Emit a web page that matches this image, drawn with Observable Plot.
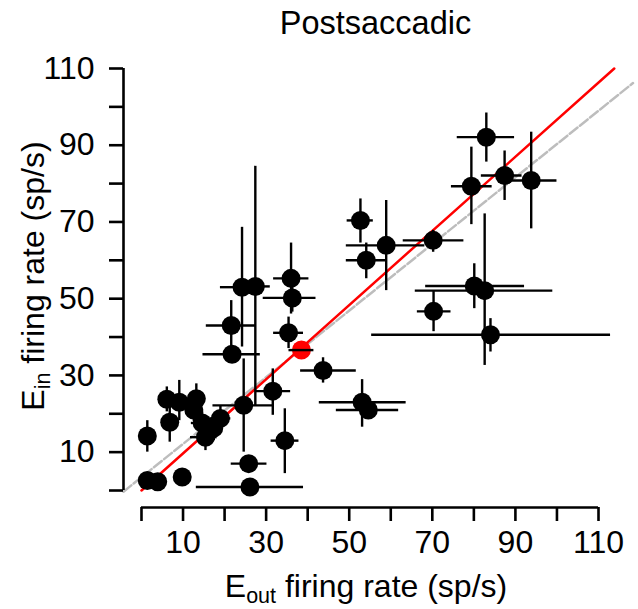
<!DOCTYPE html>
<html>
<head>
<meta charset="utf-8">
<script src="https://cdn.jsdelivr.net/npm/d3@7"></script>
<script src="https://cdn.jsdelivr.net/npm/@observablehq/plot@0.6"></script>
<style>
  body { margin: 0; background: #fff; }
  #chart svg { display: block; }
</style>
</head>
<body>
<div id="chart"></div>
<script>
// ---- data ----
const eOut   = [1.4, 1.4, 3.9, 9.8, 6.1, 9.1, 6.8, 13.2, 12.6, 14.6, 15.4, 17.4, 19.0, 24.6, 25.8, 26.1, 31.6, 34.5, 21.6, 21.8, 24.2, 27.4, 36.0, 36.3, 35.4, 38.5, 43.7, 53.1, 54.6, 52.7, 54.1, 58.9, 70.2, 70.3, 79.4, 83.0, 87.4, 93.8, 80.1, 82.6, 84.0];
const eIn    = [14.2, 2.6, 2.3, 3.5, 23.8, 23.0, 17.8, 23.9, 21.0, 17.6, 13.9, 16.3, 18.8, 22.2, 7.0, 0.9, 25.9, 13.0, 43.0, 35.5, 53.0, 53.2, 55.3, 50.2, 41.1, 36.6, 31.3, 23.0, 21.0, 70.4, 60.0, 63.9, 65.2, 46.7, 79.3, 92.1, 82.1, 80.8, 53.3, 52.1, 40.6];
const eOutLo = [0.4, -0.7, 1.5, 9.8, 4.5, 7.5, 5.5, 11.5, 11.0, 12.0, 11.8, 15.0, 16.5, 17.2, 21.6, 13.2, 27.4, 31.2, 15.6, 14.8, 19.0, 25.0, 31.8, 29.3, 31.8, 35.5, 38.3, 42.8, 46.9, 49.5, 49.3, 49.3, 63.0, 66.4, 74.6, 76.0, 81.8, 87.2, 68.4, 65.9, 55.4];
const eOutHi = [2.4, 3.5, 6.2, 9.8, 7.5, 10.5, 8.5, 15.0, 14.5, 17.0, 18.2, 19.5, 21.5, 32.0, 30.2, 39.0, 35.9, 37.9, 27.5, 28.6, 26.0, 31.0, 40.3, 42.0, 39.0, 41.5, 51.7, 63.7, 61.9, 55.8, 59.0, 68.2, 77.6, 74.5, 84.4, 89.8, 91.6, 100.0, 92.2, 99.0, 112.9];
const eInLo  = [10.0, 2.6, 2.3, 3.5, 20.5, 18.2, 12.6, 20.0, 18.0, 14.5, 10.4, 13.0, 16.0, 10.0, 7.0, 0.9, 19.6, 4.4, 36.6, 33.5, 37.4, 22.0, 46.0, 46.5, 37.0, 36.6, 28.0, 16.5, 19.0, 64.5, 55.2, 52.1, 62.1, 41.4, 69.3, 85.6, 75.6, 68.2, 47.4, 32.6, 36.1];
const eInHi  = [18.2, 2.6, 2.3, 3.5, 27.0, 28.7, 22.3, 27.8, 24.0, 20.5, 17.0, 19.5, 22.0, 34.3, 7.0, 0.9, 31.7, 21.3, 49.5, 37.5, 68.6, 84.5, 64.5, 54.0, 45.2, 36.6, 34.6, 28.9, 23.0, 76.0, 64.5, 75.6, 67.8, 52.1, 89.5, 98.4, 88.5, 93.4, 59.1, 72.1, 44.8];
const highlightIndex = 25;

// reference lines
const fitX   = [0, 113.8];
const fitY   = [0, 110];
const unityX = [-4.33, 118.3];
const unityY = [-0.3, 106.2];

// axes
const tickValues = [0, 10, 20, 30, 40, 50, 60, 70, 80, 90, 100, 110];
const tickLabels = [10, 30, 50, 70, 90, 110];
const titleText = "Postsaccadic";
const xTitleParts = ["E", "out", " firing rate (sp/s)"];
const yTitleParts = ["E", "in", " firing rate (sp/s)"];

const xMin = -4.33, yMin = -4.43;

const rows = eOut.map((x, i) => ({
  x, y: eIn[i], xl: eOutLo[i], xh: eOutHi[i], yl: eInLo[i], yh: eInHi[i], hi: i === highlightIndex
}));
const fitRows = fitX.map((x, i) => ({x, y: fitY[i]}));
const unityRows = unityX.map((x, i) => ({x, y: unityY[i]}));
const fmt = d => tickLabels.includes(d) ? String(d) : "";

const plot = Plot.plot({
  width: 638,
  height: 609,
  marginLeft: 123,
  marginRight: 40,
  marginTop: 68,
  marginBottom: 102,
  style: {fontFamily: '"Liberation Sans", Arial, Helvetica, sans-serif', background: "white", overflow: "visible", color: "black"},
  x: {domain: [xMin, 110]},
  y: {domain: [yMin, 110]},
  marks: [
    Plot.line(unityRows, {x: "x", y: "y", stroke: "#bdbdbd", strokeWidth: 2.5, strokeDasharray: "10,3"}),
    Plot.line(fitRows, {x: "x", y: "y", stroke: "#ff0000", strokeWidth: 2.5}),
    Plot.dot(rows.filter(d => !d.hi), {x: "x", y: "y", r: 9.5, fill: "black"}),
    Plot.dot(rows.filter(d => d.hi), {x: "x", y: "y", r: 9.5, fill: "#ff0000"}),
    Plot.ruleY(rows, {y: "y", x1: "xl", x2: "xh", stroke: "black", strokeWidth: 2.4}),
    Plot.ruleX(rows, {x: "x", y1: "yl", y2: "yh", stroke: "black", strokeWidth: 2.4}),
    Plot.ruleX([{x: xMin, y1: 0, y2: 110}], {x: "x", y1: "y1", y2: "y2", stroke: "black", strokeWidth: 2.6}),
    Plot.ruleY([{y: yMin, x1: 0, x2: 110}], {y: "y", x1: "x1", x2: "x2", stroke: "black", strokeWidth: 2.6}),
    Plot.axisX(tickValues, {anchor: "bottom", tickSize: 14, tickPadding: 9, fontSize: 32, strokeWidth: 2.6, tickFormat: fmt, label: null}),
    Plot.axisY(tickValues, {anchor: "left", tickSize: 14, tickPadding: 15, fontSize: 32, strokeWidth: 2.6, tickFormat: fmt, label: null}),
    Plot.text([titleText], {frameAnchor: "top", textAnchor: "middle", dx: 14.5, dy: -45, fontSize: 32.5, lineAnchor: "middle", fill: "black"}),
    Plot.text([xTitleParts.join("")], {frameAnchor: "bottom", textAnchor: "middle", dx: 5, dy: 79, fontSize: 32, lineAnchor: "middle", fill: "black"}),
    Plot.text([yTitleParts.join("")], {frameAnchor: "left", textAnchor: "middle", rotate: -90, dx: -90, dy: -12, fontSize: 32, lineAnchor: "middle", fill: "black"})
  ]
});

// add subscripts to the axis titles
function subscriptify(svg, parts) {
  const full = parts.join("");
  d3.select(svg).selectAll("text").filter(function () { return this.textContent === full; }).each(function () {
    const t = d3.select(this);
    t.text(null);
    t.append("tspan").text(parts[0]);
    t.append("tspan").attr("font-size", "21.5px").attr("dy", "6").text(parts[1]);
    t.append("tspan").attr("dy", "-6").text(parts[2]);
  });
}
subscriptify(plot, xTitleParts);
subscriptify(plot, yTitleParts);

document.getElementById("chart").appendChild(plot);
</script>
</body>
</html>
